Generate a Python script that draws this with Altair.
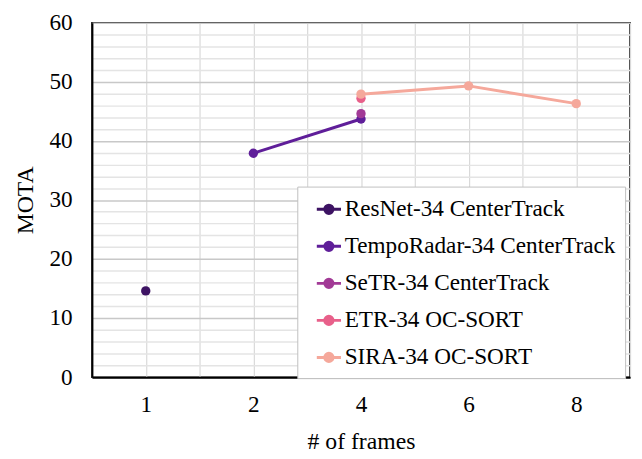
import altair as alt
import pandas as pd

frames = ["1", "2", "4", "6", "8"]
series = ["ResNet-34 CenterTrack", "TempoRadar-34 CenterTrack", "SeTR-34 CenterTrack",
          "ETR-34 OC-SORT", "SIRA-34 OC-SORT"]
colors = ["#3d1363", "#5f1e99", "#a23a96", "#e8608a", "#f5a89b"]

resnet_x = ["1"]
resnet_y = [14.6]
tempo_x = ["2", "4"]
tempo_y = [37.9, 43.7]
setr_x = ["4"]
setr_y = [44.6]
etr_x = ["4"]
etr_y = [47.2]
sira_x = ["4", "6", "8"]
sira_y = [47.9, 49.3, 46.3]

rows = []
for name, xs, ys in [(series[0], resnet_x, resnet_y), (series[1], tempo_x, tempo_y),
                     (series[2], setr_x, setr_y), (series[3], etr_x, etr_y),
                     (series[4], sira_x, sira_y)]:
    for x, y in zip(xs, ys):
        rows.append({"series": name, "frames": x, "idx": frames.index(x), "mota": y})
df = pd.DataFrame(rows)

FONT = "Liberation Serif"
n = len(frames)
xgrid = [i * 0.5 - 0.5 for i in range(2 * n + 1)]
label_arr = "[" + ",".join("'" + f + "'" for f in frames) + "]"

xenc = alt.X("idx:Q", scale=alt.Scale(domain=[-0.5, n - 0.5], nice=False, zero=False),
             axis=alt.Axis(values=xgrid, title="# of frames",
                           labelExpr="datum.value % 1 === 0 ? " + label_arr + "[datum.value] : ''",
                           grid=True, gridColor="#d9d9d9", gridWidth=1.2,
                           ticks=False, tickSize=0, labelPadding=16, titlePadding=14,
                           domainColor="#000000", domainWidth=2))
yenc = alt.Y("mota:Q", scale=alt.Scale(domain=[0, 60], nice=False),
             axis=alt.Axis(values=list(range(0, 61, 2)), title="MOTA",
                           labelExpr="datum.value % 10 === 0 ? datum.label : ''",
                           grid=True,
                           gridColor=alt.condition("datum.value % 10 === 0", alt.value("#c8c8c8"), alt.value("#e4e4e4")),
                           gridWidth=1.5,
                           ticks=False, tickSize=0, labelPadding=20, titlePadding=12,
                           domainColor="#000000", domainWidth=2))

color = alt.Color("series:N", scale=alt.Scale(domain=series, range=colors),
                  legend=alt.Legend(title=None, orient="none", legendX=208, legendY=166,
                                    symbolType="M-1,0H1M-0.34,0A0.34,0.34,0,1,1,0.34,0A0.34,0.34,0,1,1,-0.34,0Z",
                                    symbolSize=600, symbolStrokeWidth=3, symbolOffset=9,
                                    labelFont=FONT, labelFontSize=23.5, labelLimit=400,
                                    labelColor="#000000", labelOffset=2, rowPadding=11.5,
                                    padding=9, strokeColor="#c0c0c0", fillColor="#ffffff"))

lines = alt.Chart(df).mark_line(strokeWidth=3).encode(x=xenc, y=yenc, color=color, detail="series:N")
points = alt.Chart(df).mark_point(filled=True, size=90, opacity=1).encode(x=xenc, y=yenc, color=color)

chart = alt.layer(lines, points).properties(
    width=545, height=359,
    autosize=alt.AutoSizeParams(type="none"),
    padding={"left": 85, "top": 12, "right": 4, "bottom": 80},
).configure_view(stroke="#000000", strokeWidth=1.5).configure_axis(
    labelFont=FONT, labelFontSize=23.5, labelColor="#000000",
    titleFont=FONT, titleFontSize=24, titleColor="#000000", titleFontWeight="normal",
)

chart.save("out.html", embed_options={"renderer": "svg", "actions": False})
